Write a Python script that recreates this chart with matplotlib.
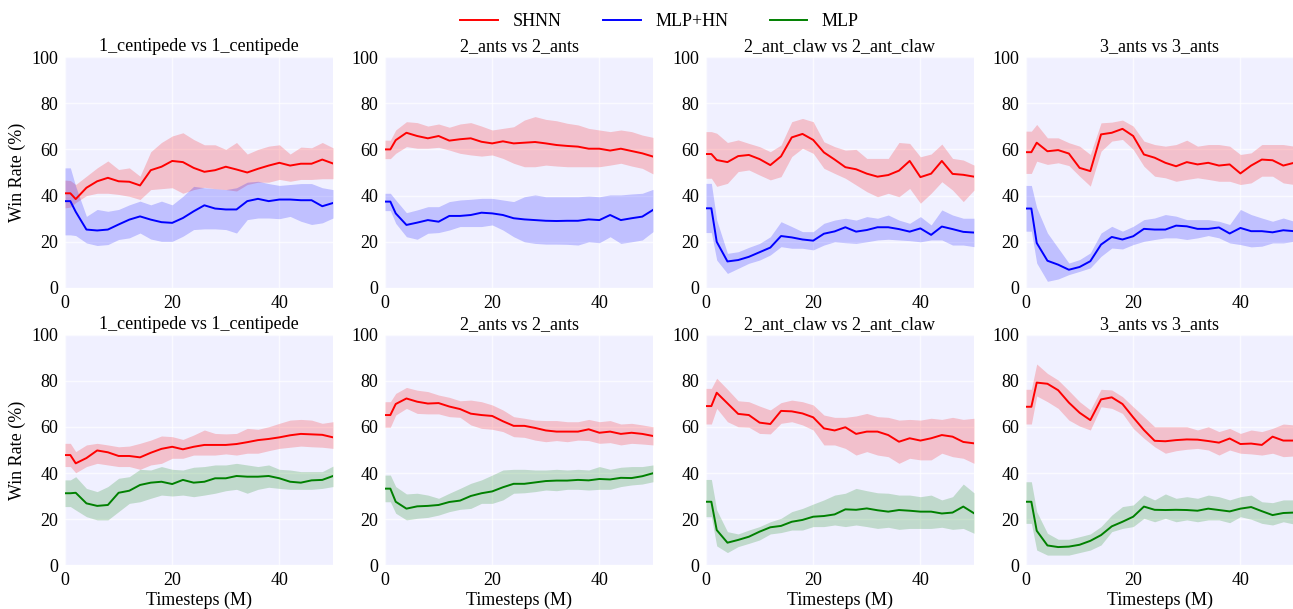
import numpy as np
import matplotlib
matplotlib.use("Agg")
import matplotlib.pyplot as plt

plt.rcParams['font.family'] = ['Liberation Serif', 'DejaVu Serif']
plt.rcParams['font.size'] = 13

# timesteps (M) at which values were read
steps = [0, 1, 2, 4, 6, 8, 10, 12, 14, 16, 18, 20, 22, 24, 26,
         28, 30, 32, 34, 36, 38, 40, 42, 44, 46, 48, 50]

titles = ['1_centipede vs 1_centipede', '2_ants vs 2_ants',
          '2_ant_claw vs 2_ant_claw', '3_ants vs 3_ants']
series_names = ['SHNN', 'MLP+HN', 'MLP']

# ---- top row: SHNN vs MLP+HN ----
t1_shnn = [41, 41, 38.5, 43.4, 46.2, 47.7, 46.2, 46, 44.4, 51, 52.5, 55, 54.5, 52, 50.3, 51, 52.5, 51.3, 50, 51.6, 53, 54.2, 53, 53.8, 53.8, 55.6, 53.9]
t1_shnn_hi = [46.7, 46.5, 44.8, 48.4, 52, 55, 51.3, 52, 48.4, 59, 63, 65.8, 67.2, 64.3, 62, 62, 60, 63, 58, 60, 61.4, 62, 58, 61, 60.7, 63, 60.7]
t1_shnn_lo = [34.7, 35, 37, 40, 41, 41, 40.5, 39.7, 38.3, 42.6, 43, 43.4, 41, 42.6, 43.6, 43, 42.6, 42, 44.8, 45.8, 45.8, 47, 46.2, 47, 47, 47.3, 47.3]
t1_hn = [37.6, 37.6, 33, 25.3, 24.9, 25.3, 27.5, 29.6, 31, 29.6, 28.5, 28.2, 30.3, 33.2, 35.8, 34.4, 34, 34, 37.6, 38.6, 37.6, 38.3, 38.3, 38, 38, 35.4, 36.8]
t1_hn_hi = [52, 52, 44, 31, 34, 33.2, 34, 36, 37.6, 36, 37.6, 36, 39.7, 44, 43.4, 43, 42.6, 43.4, 45.8, 46.2, 45.2, 44.4, 44.8, 45.2, 45.2, 43.4, 42.6]
t1_hn_lo = [23, 23, 22.7, 19.5, 18.4, 18.8, 21, 21.7, 23.8, 21.2, 20.2, 20.2, 22.4, 25.3, 25.6, 25.6, 25.3, 23.8, 29.6, 30.3, 30.3, 30, 31, 28.9, 27.5, 28.2, 30.3]

t2_shnn = [60, 60, 64, 67.2, 65.8, 64.8, 65.8, 63.8, 64.4, 64.8, 63.3, 62.6, 63.5, 62.6, 62.9, 63.2, 62.6, 61.9, 61.5, 61.2, 60.3, 60.3, 59.5, 60.3, 59.3, 58.3, 56.9]
t2_shnn_hi = [64, 64, 68.4, 72, 71.6, 70.1, 71, 69.6, 71, 71.6, 70.1, 68.4, 69.1, 69.8, 72.7, 74.2, 73, 72.4, 71.3, 70.6, 69.1, 68.4, 67.7, 68.4, 67.7, 66.2, 65.2]
t2_shnn_lo = [56, 56, 58.3, 61.2, 60.5, 60.5, 60.9, 59.7, 58.3, 57.6, 57.1, 57.6, 56.1, 54, 52.5, 52.5, 53.2, 52.8, 52.5, 52.5, 52.5, 52.5, 53.2, 54, 52.8, 51.8, 49.4]
t2_hn = [37.4, 37.4, 32.3, 27.3, 28.3, 29.4, 28.7, 31.2, 31.2, 31.6, 32.6, 32.3, 31.6, 30.2, 29.7, 29.4, 29.1, 29, 29.1, 29.1, 29.7, 29.4, 31.6, 29.4, 30.2, 30.9, 33.8]
t2_hn_hi = [41, 41, 38.1, 32.6, 33.8, 35.2, 35.2, 37.4, 38.1, 38.4, 38.8, 38.8, 38.1, 37.4, 39.5, 40.3, 39.5, 39.5, 39.5, 39.5, 39.8, 39.5, 40.3, 40.3, 40.7, 41, 42.7]
t2_hn_lo = [33.5, 33.5, 28, 22.2, 21.1, 23.7, 24, 25.1, 26.6, 26.6, 26.6, 27.3, 25.1, 22.2, 20, 19.3, 19, 19, 18.9, 18.6, 20, 19.6, 22.2, 19.3, 20, 20.8, 24.4]

t3_shnn = [58, 58, 55.4, 54.5, 57.1, 57.6, 55.8, 53.2, 57, 65.2, 66.7, 64.1, 58.7, 55.6, 52.3, 51.4, 49.5, 48.2, 48.9, 50.8, 55, 48, 49.5, 55, 49.4, 49, 48.2]
t3_shnn_hi = [67.7, 67.7, 67, 63, 64.1, 62.6, 61.2, 59, 61.9, 72, 73.4, 72, 63.3, 61.2, 59.7, 60, 56.1, 56.1, 56.1, 63, 62.6, 56.8, 58, 62.3, 56.1, 55.4, 53.2]
t3_shnn_lo = [47.5, 47.5, 44, 45.3, 50.4, 51.1, 48.9, 46.8, 48.2, 56.9, 60.5, 58.3, 51.8, 49.6, 47.5, 44.6, 41.7, 39.5, 41, 39.5, 43.1, 36.7, 41, 46, 42.4, 37.4, 42.4]
t3_hn = [34.5, 34.5, 20, 11.5, 12.1, 13.5, 15.5, 17.5, 22.5, 21.9, 21, 20.5, 23.5, 24.5, 26.3, 24.4, 25.1, 26.3, 26.3, 25.5, 24.4, 25.8, 23, 26.6, 25.5, 24.3, 24]
t3_hn_hi = [45.3, 45.3, 29.4, 15, 15.7, 17.6, 19.3, 22.2, 28.7, 26.6, 24.4, 24.4, 28, 29.4, 30.2, 29.4, 30.9, 30.2, 31.6, 29.4, 28, 30.9, 27.3, 33.8, 31.6, 30.2, 30.2]
t3_hn_lo = [24, 24, 12.1, 6.3, 8.5, 10.7, 12.1, 14.3, 17.9, 17.2, 17.2, 16.5, 18.6, 20, 19.6, 19.3, 20, 20.8, 21.1, 20.8, 20.5, 20, 20.8, 20.8, 18.6, 18.6, 17.9]

t4_shnn = [58.8, 58.8, 62.9, 59.2, 59.7, 58.2, 52, 50.6, 66.5, 67.2, 68.9, 65.8, 57.8, 56.4, 54.2, 52.7, 54.5, 53.5, 54.2, 53, 53.5, 49.6, 53, 55.6, 55.3, 53, 54.2]
t4_shnn_hi = [67.9, 67.9, 70.8, 65, 65, 62.9, 61.4, 57.8, 71.5, 71.8, 72.7, 70.1, 63.6, 62.1, 61.4, 62.1, 64, 61.4, 62.1, 62.1, 61.4, 57.8, 58.5, 62.1, 62.1, 62.1, 61.4]
t4_shnn_lo = [49.6, 49.6, 54.9, 53.5, 54.2, 53, 48.4, 44.1, 59.2, 63.6, 64.3, 60, 52.7, 48.4, 47.7, 46.2, 47, 47.7, 47, 46.2, 46.2, 44.8, 45.5, 48.4, 48.4, 45.5, 44.8]
t4_hn = [34.4, 34.4, 19.5, 11.8, 10.1, 7.9, 9.1, 11.6, 18.8, 22.1, 21, 22.4, 25.6, 25.3, 25.3, 27, 26.7, 25.6, 25.6, 26.2, 23.6, 26, 24.6, 24.6, 24.1, 25, 24.6]
t4_hn_hi = [44.4, 44.4, 34.7, 23.8, 17.3, 10.8, 12.3, 15.2, 23.8, 26.7, 24.6, 26.7, 29.6, 30.3, 31.8, 31.1, 29.6, 29.6, 29.6, 28.9, 27.5, 34, 31.8, 30.3, 28.9, 30.3, 28.9]
t4_hn_lo = [24.6, 24.6, 10.8, 2.9, 3.9, 5.8, 7.2, 8.7, 13.7, 17.3, 16.9, 18.8, 20.2, 21, 21.7, 21.7, 21, 21.7, 22.7, 21.7, 19.5, 18.8, 17.8, 18.1, 19.5, 19.5, 20.2]

# ---- bottom row: SHNN vs MLP ----
b1_shnn = [47.8, 47.8, 44.2, 46.5, 49.8, 49, 47.4, 47.4, 46.8, 48.8, 50.5, 51.4, 50.3, 51.4, 52.2, 52.2, 52.2, 52.6, 53.4, 54.3, 54.8, 55.5, 56.4, 57, 56.8, 56.6, 55.5]
b1_shnn_hi = [52.9, 52.9, 49.3, 52.2, 52.9, 52.2, 51.4, 51.7, 52.9, 54.3, 56.1, 55.8, 54.6, 56.5, 58.7, 57.2, 57, 57.2, 59.4, 59, 60.1, 61.6, 63, 63.3, 63, 61.6, 62.3]
b1_shnn_lo = [42.8, 42.8, 40.1, 42.8, 44.2, 43.5, 42.8, 42.8, 41.6, 43.5, 44.2, 46.4, 46.4, 47.8, 47.8, 47.8, 48.3, 47.8, 48.6, 48.6, 49.7, 50.7, 51.2, 51.7, 51.4, 51.2, 50.7]
b1_mlp = [31.2, 31.2, 31.4, 26.8, 25.7, 26.1, 31.4, 32.3, 34.8, 35.8, 36.2, 35.2, 37, 35.8, 36.2, 37.7, 37.7, 38.7, 38.4, 38.4, 38.7, 37.7, 36.2, 35.8, 36.8, 37, 38.7]
b1_mlp_hi = [37, 37, 38.4, 33.3, 31.9, 34.1, 37.7, 38.4, 41.6, 41.3, 42.8, 41.6, 41.3, 42.5, 42.8, 43.5, 43.5, 44.2, 43.5, 42.8, 43.5, 41.6, 41.3, 40.6, 40.6, 40.6, 43]
b1_mlp_lo = [25.4, 25.4, 23.9, 21, 19.6, 19.6, 23.2, 26.8, 27.5, 29, 30.4, 30, 30.4, 29.7, 30.4, 31.2, 32.3, 32.9, 31.2, 32.9, 33.8, 33.3, 32.9, 32.9, 32.9, 33.3, 34.1]

b2_shnn = [65.2, 65.2, 70, 72.4, 71, 70.2, 70.4, 68.9, 67.8, 65.8, 65.2, 64.8, 62.5, 60.5, 60.5, 59.6, 58.5, 58, 58, 58, 59, 57.5, 58, 57, 57.5, 57, 56.1]
b2_shnn_hi = [71, 71, 74.6, 77.2, 76, 75.4, 73.9, 72.9, 71.4, 71.7, 71, 69.6, 67.4, 64.5, 63.8, 63, 62.8, 62.8, 62.3, 62.3, 63.3, 62.3, 62.8, 61.3, 61.6, 60.9, 60.1]
b2_shnn_lo = [59.9, 59.9, 65.2, 68.1, 65.9, 65.7, 65.7, 64.5, 64.2, 60.9, 59.4, 59, 58, 55.8, 55.5, 54.3, 53.6, 54.1, 53.6, 54.3, 54.1, 52.9, 53.2, 52.2, 52.9, 52.6, 52.2]
b2_mlp = [33.2, 33.2, 27.5, 24.5, 25.5, 25.7, 26.1, 27.4, 28, 30, 31.2, 32, 33.8, 35.3, 35.3, 35.9, 36.5, 36.7, 36.7, 37, 36.8, 37.4, 37.2, 37.9, 37.8, 38.6, 39.9]
b2_mlp_hi = [39.1, 39.1, 34.1, 30.9, 31.2, 30.4, 29, 31.2, 33.3, 35.5, 37, 39.1, 41.3, 41.6, 41.6, 41.3, 41.3, 41.6, 41.3, 41.6, 41.3, 42.8, 41.6, 42.5, 42.8, 42.8, 43.5]
b2_mlp_lo = [27.5, 27.5, 22.5, 19.6, 20.3, 20.7, 21.7, 23.2, 24.2, 24.6, 26.8, 26.8, 28.3, 31.2, 31.4, 31.9, 32.6, 32.3, 32.9, 32.9, 32.6, 32.9, 32.9, 34.1, 34.8, 35.2, 36.2]

b3_shnn = [69.1, 69.1, 74.9, 70.3, 65.7, 65.2, 61.9, 61.3, 67, 66.8, 65.9, 64.2, 59.4, 58.5, 59.9, 57, 58, 58, 56.5, 53.6, 55.1, 54.1, 55.1, 56.5, 55.8, 53.5, 52.9]
b3_shnn_hi = [76.8, 76.8, 81.2, 76.4, 71.4, 71, 69.1, 67.4, 70.6, 71.7, 71, 69.6, 65.2, 64.2, 64.2, 64.8, 65.9, 64.5, 64.2, 63, 63.3, 63, 63.8, 63.3, 64.2, 63.3, 63.8]
b3_shnn_lo = [61.3, 61.3, 68.1, 62.3, 60.1, 59.9, 57.2, 57, 61.6, 62.3, 60.9, 58.7, 52.2, 52.2, 50.7, 47.8, 49.3, 47.8, 47.1, 44.2, 46.4, 45.7, 45.7, 48.6, 47.1, 46.4, 44.2]
b3_mlp = [27.5, 27.5, 15.2, 9.7, 10.9, 12.3, 14.5, 16.4, 17, 18.8, 19.6, 21, 21.3, 22, 24.2, 24, 24.6, 23.8, 23.2, 23.9, 23.6, 23.2, 23.2, 22.4, 22.8, 25.4, 22.5]
b3_mlp_hi = [37.2, 37.2, 23.9, 14.5, 13.5, 15.2, 16.7, 18.8, 20.3, 23.2, 24.6, 26.5, 28.3, 30.4, 31.2, 33.3, 32.3, 31.4, 31.2, 30.4, 30.4, 29.7, 30.4, 28.3, 29.7, 35.2, 31.4]
b3_mlp_lo = [21, 21, 8.3, 5.4, 8, 9.4, 10.9, 13.5, 14.1, 15.2, 15.2, 16.7, 16.7, 17.4, 16.7, 17.4, 16.7, 15.9, 16.4, 15.5, 15.9, 15.9, 15.9, 16.4, 15.5, 15.9, 13.8]

b4_shnn = [68.8, 68.8, 79.3, 78.8, 76, 70.6, 66.2, 63, 72, 72.9, 70, 64.2, 58.7, 54, 53.8, 54.3, 54.6, 54.5, 53.9, 53.2, 55, 52.6, 52.8, 52.2, 55.8, 54.1, 54.1]
b4_shnn_hi = [76.4, 76.4, 87.4, 83.3, 80.4, 75.8, 71, 67.4, 76.4, 76.1, 73.2, 68.8, 64.5, 60.1, 60.1, 60.1, 60.1, 58.7, 60.1, 58, 59.4, 57.2, 58.7, 58, 59.4, 61.3, 60.9]
b4_shnn_lo = [61.3, 61.3, 73.5, 71, 68.1, 63, 60.4, 58.7, 68.8, 68.1, 65.9, 59.4, 55.1, 51.4, 48.6, 49.7, 50.3, 50.7, 50, 47.8, 50, 48.6, 48.3, 47.8, 48.6, 47.1, 47.4]
b4_mlp = [27.5, 27.5, 14.9, 8.5, 7.8, 8, 8.8, 10.5, 13, 16.8, 18.8, 21, 25.4, 24, 23.9, 24, 23.9, 23.6, 24.5, 23.9, 23.3, 24.5, 25.2, 23.4, 21.7, 22.6, 22.8]
b4_mlp_hi = [36.2, 36.2, 23.2, 13.8, 11.2, 11.2, 12.3, 13.5, 16.7, 21.7, 25.4, 26.1, 30.4, 28.3, 30.9, 29, 29.7, 29, 30.4, 29.7, 28.3, 29.7, 30.4, 27.5, 27.1, 28.3, 28.3]
b4_mlp_lo = [18.1, 18.1, 6.5, 4.3, 4.3, 4.3, 5.4, 6.5, 8.7, 14.5, 15.9, 16.7, 20.3, 18.8, 20.3, 18.8, 19.6, 18.8, 19.6, 19.6, 18.4, 21, 19.9, 18.1, 17.4, 18.8, 17.8]

top = [
    [(t1_shnn, t1_shnn_lo, t1_shnn_hi), (t1_hn, t1_hn_lo, t1_hn_hi)],
    [(t2_shnn, t2_shnn_lo, t2_shnn_hi), (t2_hn, t2_hn_lo, t2_hn_hi)],
    [(t3_shnn, t3_shnn_lo, t3_shnn_hi), (t3_hn, t3_hn_lo, t3_hn_hi)],
    [(t4_shnn, t4_shnn_lo, t4_shnn_hi), (t4_hn, t4_hn_lo, t4_hn_hi)],
]
bottom = [
    [(b1_shnn, b1_shnn_lo, b1_shnn_hi), (b1_mlp, b1_mlp_lo, b1_mlp_hi)],
    [(b2_shnn, b2_shnn_lo, b2_shnn_hi), (b2_mlp, b2_mlp_lo, b2_mlp_hi)],
    [(b3_shnn, b3_shnn_lo, b3_shnn_hi), (b3_mlp, b3_mlp_lo, b3_mlp_hi)],
    [(b4_shnn, b4_shnn_lo, b4_shnn_hi), (b4_mlp, b4_mlp_lo, b4_mlp_hi)],
]

fig = plt.figure(figsize=(12.93, 6.09), dpi=100)

lefts = [65, 385, 706, 1026]
W, H = 1293, 609
rows = [(57, 288, top, ['red', 'blue']), (335, 565, bottom, ['red', 'green'])]

handles = {}
for r, (ytop, ybot, panels, colors) in enumerate(rows):
    for c in range(4):
        ax = fig.add_axes([lefts[c] / W, 1 - ybot / H, 268 / W, (ybot - ytop) / H])
        ax.set_facecolor('#F0F0FF')
        for (mean, lo, hi), col in zip(panels[c], colors):
            ax.fill_between(steps, lo, hi, color=col, alpha=0.2, linewidth=0)
            ln, = ax.plot(steps, mean, color=col, linewidth=1.4)
            handles[col] = ln
        ax.set_xlim(0, 50)
        ax.set_ylim(0, 100)
        ax.set_xticks([0, 20, 40])
        ax.set_yticks([0, 20, 40, 60, 80, 100])
        ax.grid(True, color='white', linewidth=1, alpha=0.7)
        ax.set_axisbelow(True)
        for s in ax.spines.values():
            s.set_visible(False)
        ax.tick_params(length=0, pad=5, labelsize=13)
        ax.set_title(titles[c], fontsize=13, pad=4)
        if c == 0:
            ax.set_ylabel('Win Rate (%)', fontsize=13)
        if r == 1:
            ax.set_xlabel('Timesteps (M)', fontsize=13, labelpad=2)

fig.legend([handles['red'], handles['blue'], handles['green']], series_names,
           loc='upper center', bbox_to_anchor=(0.51, 1.005), ncol=3,
           frameon=False, fontsize=13, columnspacing=2.3, handlelength=2.1)

plt.savefig('out.png', dpi=100)
